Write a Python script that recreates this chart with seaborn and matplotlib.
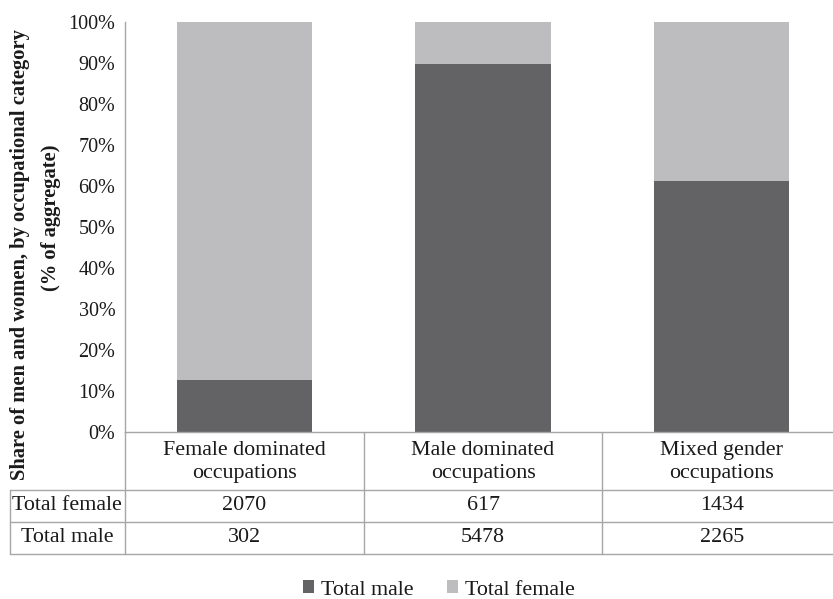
import matplotlib
matplotlib.use("Agg")
import matplotlib.pyplot as plt
from matplotlib.patches import Patch
from matplotlib.lines import Line2D
import seaborn as sns
import pandas as pd

# Data
categories = ["Female dominated\noccupations", "Male dominated\noccupations", "Mixed gender\noccupations"]
total_female = [2070, 617, 1434]
total_male = [302, 5478, 2265]
y_ticks = [0, 10, 20, 30, 40, 50, 60, 70, 80, 90, 100]

male_color = "#636365"
female_color = "#BDBDC0"
line_color = "#A6A6A6"
text_color = "#1a1a1a"

sns.set_theme(style="white")
plt.rcParams["font.family"] = ["Liberation Serif", "DejaVu Serif"]

W, H = 833, 599
fig = plt.figure(figsize=(W / 100, H / 100), dpi=100)

# plot area in pixel coordinates
ax_left, ax_right, ax_top, ax_bottom = 125, 841, 22, 432
ax = fig.add_axes([ax_left / W, 1 - ax_bottom / H, (ax_right - ax_left) / W, (ax_bottom - ax_top) / H])

df = pd.DataFrame({"category": categories, "female": total_female, "male": total_male})
df["total"] = df["female"] + df["male"]
df["male_share"] = df["male"] / df["total"] * 100
df["full"] = 100.0

sns.barplot(data=df, x="category", y="full", color=female_color, width=0.566,
            saturation=1, linewidth=0, ax=ax, zorder=2)
sns.barplot(data=df, x="category", y="male_share", color=male_color, width=0.566,
            saturation=1, linewidth=0, ax=ax, zorder=3)

ax.set_xlim(-0.5, 2.5)
ax.set_ylim(0, 100)
ax.set_yticks(y_ticks)
ax.set_yticklabels([f"{t}%" for t in y_ticks], fontsize=14.5, color=text_color)
ax.tick_params(axis="y", length=0, pad=7)
ax.set_xticks([])
ax.set_xlabel("")
ax.set_ylabel("")
for s in ["top", "right"]:
    ax.spines[s].set_visible(False)
for s in ["left", "bottom"]:
    ax.spines[s].set_color(line_color)
    ax.spines[s].set_linewidth(1.0)
    ax.spines[s].set_zorder(4)

# data table below the plot
def fx(px):
    return px / W

def fy(py):
    return 1 - py / H

col_w = (ax_right - ax_left) / 3
row_header_bottom, row1_bottom, row2_bottom = 490, 522, 554
table_left = 10

lines = []
for y in (row_header_bottom, row1_bottom, row2_bottom):
    lines.append(Line2D([fx(table_left), fx(ax_right)], [fy(y), fy(y)]))
lines.append(Line2D([fx(ax_left), fx(ax_left)], [fy(ax_bottom), fy(row2_bottom)]))
for i in range(1, 4):
    x = ax_left + i * col_w
    lines.append(Line2D([fx(x), fx(x)], [fy(ax_bottom), fy(row2_bottom)]))
lines.append(Line2D([fx(table_left), fx(table_left)], [fy(row_header_bottom), fy(row2_bottom)]))
for ln in lines:
    ln.set_color(line_color)
    ln.set_linewidth(1.0)
    fig.add_artist(ln)

tfs = 15.8
for i, cat in enumerate(categories):
    cx = ax_left + (i + 0.5) * col_w
    fig.text(fx(cx), fy((ax_bottom + row_header_bottom) / 2 + 1), cat, ha="center", va="center",
             fontsize=tfs, linespacing=1.28, color=text_color)
    fig.text(fx(cx), fy((row_header_bottom + row1_bottom) / 2), f"{total_female[i]}",
             ha="center", va="center", fontsize=tfs, color=text_color)
    fig.text(fx(cx), fy((row1_bottom + row2_bottom) / 2), f"{total_male[i]}",
             ha="center", va="center", fontsize=tfs, color=text_color)

fig.text(fx((table_left + ax_left) / 2 - 0.5), fy((row_header_bottom + row1_bottom) / 2), "Total female",
         ha="center", va="center", fontsize=tfs, color=text_color)
fig.text(fx((table_left + ax_left) / 2), fy((row1_bottom + row2_bottom) / 2), "Total male",
         ha="center", va="center", fontsize=tfs, color=text_color)

# axis title
fig.text(fx(20), fy(255), "Share of men and women, by occupational category", rotation=90,
         ha="center", va="center", fontsize=14.8, fontweight="bold", color=text_color)
fig.text(fx(51), fy(218), "(% of aggregate)", rotation=90,
         ha="center", va="center", fontsize=14.8, fontweight="bold", color=text_color)

# legend
handles = [Patch(facecolor=male_color, edgecolor="none", label="Total male"),
           Patch(facecolor=female_color, edgecolor="none", label="Total female")]
fig.legend(handles=handles, loc="center", bbox_to_anchor=(fx(439), fy(590)), ncol=2,
           frameon=False, fontsize=tfs, handlelength=0.5, handleheight=0.5,
           handletextpad=0.35, columnspacing=1.5, labelcolor=text_color)

fig.savefig("out.png", dpi=100)
